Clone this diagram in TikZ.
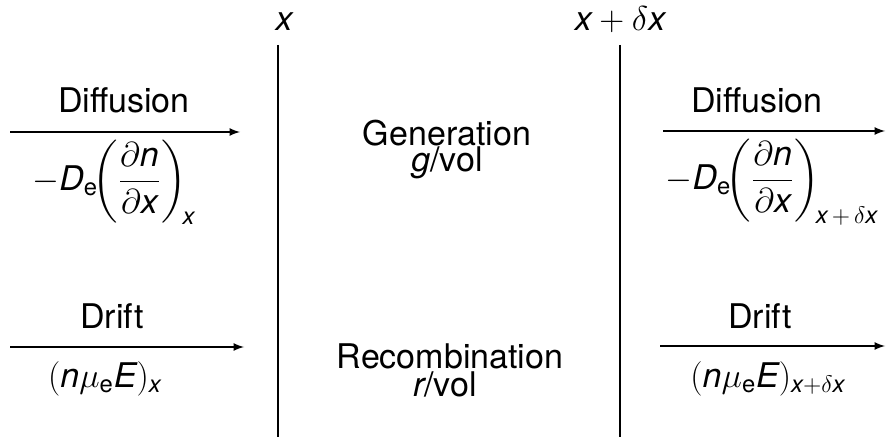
\documentclass[tikz,border=0pt]{standalone}
\usepackage{amsmath}
\usepackage{fontspec}
\setmainfont{TeX Gyre Heros}
\newcommand{\iv}[1]{\text{\itshape #1}}

\begin{document}
\begin{tikzpicture}[x=0.5pt, y=-0.5pt]
  \tikzset{every node/.style={font=\fontsize{17}{20}\selectfont, inner sep=0pt},
    flux/.style={-latex, line width=0.8pt},
    plane/.style={line width=1.2pt}}
  \useasboundingbox (0,0) rectangle (886,437);
  \node (lbl-x) at (284,22) {$\iv{x}$};
  \node (lbl-xdx) at (620,20) {$\iv{x} + \delta\iv{x}$};
  \coordinate (plane-1-top) at (278,45);
  \coordinate (plane-1-bot) at (278,437);
  \coordinate (plane-2-top) at (620,45);
  \coordinate (plane-2-bot) at (620,437);
  \draw[plane] (plane-1-top) -- (plane-1-bot);
  \draw[plane] (plane-2-top) -- (plane-2-bot);
  \coordinate (diff-1-a) at (10,132);
  \coordinate (diff-1-b) at (240,132);
  \coordinate (drift-1-a) at (10,347);
  \coordinate (drift-1-b) at (244,347);
  \coordinate (diff-2-a) at (663,131);
  \coordinate (diff-2-b) at (885,131);
  \coordinate (drift-2-a) at (660,346);
  \coordinate (drift-2-b) at (885,346);
  \draw[flux] (diff-1-a) -- (diff-1-b);
  \draw[flux] (drift-1-a) -- (drift-1-b);
  \draw[flux] (diff-2-a) -- (diff-2-b);
  \draw[flux] (drift-2-a) -- (drift-2-b);
  \node (diff-1) at (124,100) {Diffusion};
  \node (diff-1-eq) at (114,182)
    {$-\iv{D}_{\mathrm{e}}\!\biggl(\dfrac{\partial\iv{n}}{\partial\iv{x}}\biggr)_{\!\iv{x}}$};
  \node (drift-1) at (112,316) {Drift};
  \node (drift-1-eq) at (105,379) {$(\iv{n}\mu_{\text{e}}\iv{E})_{\iv{x}}$};
  \node (gen) at (447,133) {Generation};
  \node (gen-rate) at (447,163) {\iv{g}/vol};
  \node (rec) at (450,356) {Recombination};
  \node (rec-rate) at (445,384) {\iv{r}/vol};
  \node (diff-2) at (757,100) {Diffusion};
  \node (diff-2-eq) at (772,182)
    {$-\iv{D}_{\mathrm{e}}\!\biggl(\dfrac{\partial\iv{n}}{\partial\iv{x}}\biggr)_{\!\iv{x}\,+\,\delta\iv{x}}$};
  \node (drift-2) at (760,316) {Drift};
  \node (drift-2-eq) at (768,379) {$(\iv{n}\mu_{\text{e}}\iv{E})_{\iv{x}+\delta\iv{x}}$};
\end{tikzpicture}
\end{document}
